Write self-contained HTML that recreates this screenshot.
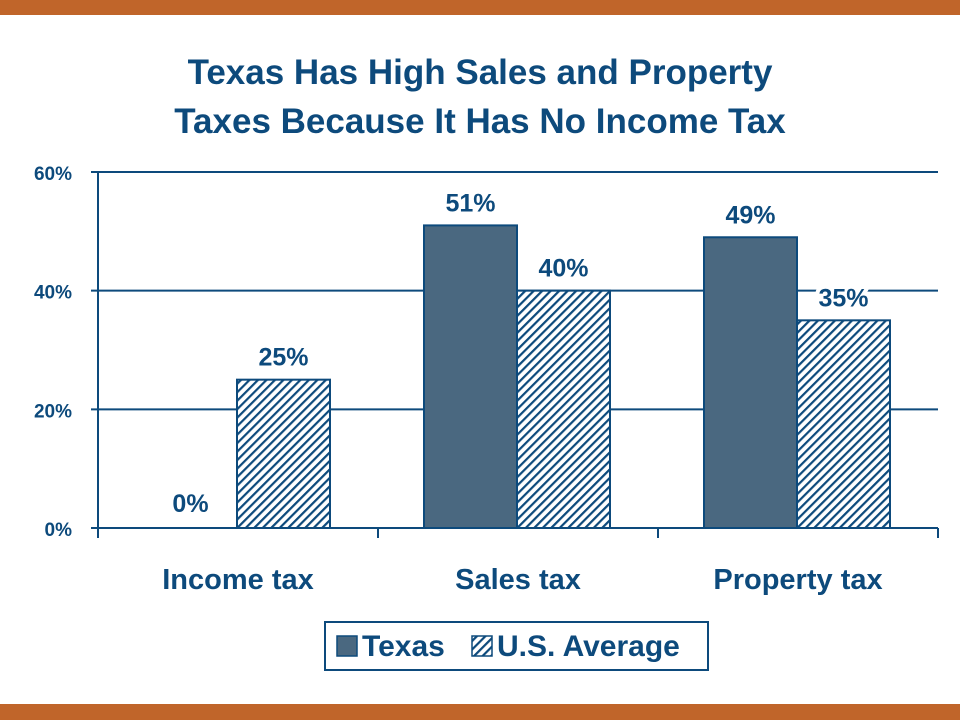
<!DOCTYPE html>
<html><head><meta charset="utf-8"><style>
body{margin:0;background:#fff;}
svg{display:block;font-family:"Liberation Sans",Arial,sans-serif;}
</style></head><body>
<svg width="960" height="720" viewBox="0 0 960 720">
<defs>
<pattern id="hatch" patternUnits="userSpaceOnUse" width="6" height="6" patternTransform="rotate(45)">
<rect width="6" height="6" fill="#fff"/><rect x="0" y="0" width="2.2" height="6" fill="#0d4a7c"/>
</pattern>
</defs>
<rect x="0" y="0" width="960" height="15" fill="#c0652a"/>
<rect x="0" y="704" width="960" height="16" fill="#c0652a"/>
<g fill="#0d4a7c" font-weight="bold" font-size="35" text-anchor="middle">
<text x="480" y="84">Texas Has High Sales and Property</text>
<text x="480" y="133">Taxes Because It Has No Income Tax</text>
</g>
<g id="grid"></g>
<g id="bars"></g>
<g id="labels"></g>
<g>
<rect x="325" y="622" width="383" height="48" fill="#fff" stroke="#0d4a7c" stroke-width="2"/>
<rect x="337" y="636" width="20" height="20" fill="#4a6880" stroke="#0d4a7c" stroke-width="1.5"/>
<text x="362" y="656" font-size="30" font-weight="bold" fill="#0d4a7c">Texas</text>
<rect x="472" y="636" width="20" height="20" fill="url(#hatch)" stroke="#0d4a7c" stroke-width="1.5"/>
<text x="497" y="656" font-size="30" font-weight="bold" fill="#0d4a7c">U.S. Average</text>
</g>
</svg>
<script>
const categories=["Income tax","Sales tax","Property tax"];
const texas=[0,51,49];
const usAvg=[25,40,35];
const tickValues=[0,20,40,60];
const tickLabels=["0%","20%","40%","60%"];
const NS="http://www.w3.org/2000/svg";
const x0=98,x1=938,yTop=172,yBot=528,yMax=60;
const y=v=>yBot-(v/yMax)*(yBot-yTop);
const catW=(x1-x0)/categories.length;
const barW=93;
function mk(tag,attrs,parent,txt){const e=document.createElementNS(NS,tag);for(const k in attrs)e.setAttribute(k,attrs[k]);if(txt!==undefined)e.textContent=txt;parent.appendChild(e);return e;}
const grid=document.getElementById('grid'),bars=document.getElementById('bars'),labels=document.getElementById('labels');
tickValues.forEach((t,i)=>{
 const l=mk('line',{x1:91,x2:x1,y1:y(t),y2:y(t),stroke:'#0d4a7c','stroke-width':2},grid);
 
 
 const tx=mk('text',{x:72,y:y(t)+8,'text-anchor':'end','font-size':19,'font-weight':'bold',fill:'#0d4a7c'},grid,tickLabels[i]);
 
 
});
const ax=mk('line',{x1:x0,x2:x0,y1:yTop,y2:538,stroke:'#0d4a7c','stroke-width':2},grid);


for(let i=0;i<=categories.length;i++){
 const t=mk('line',{x1:x0+i*catW,x2:x0+i*catW,y1:yBot,y2:538,stroke:'#0d4a7c','stroke-width':2},grid);
 
 
}
categories.forEach((c,i)=>{
 const cx=x0+i*catW;
 const bx=cx+46;
 const cl=mk('text',{x:cx+catW/2,y:589,'text-anchor':'middle','font-size':29,fill:'#0d4a7c','font-weight':'bold'},labels,c);
 
 
 if(texas[i]>0){
  const r=mk('rect',{x:bx,y:y(texas[i]),width:barW,height:yBot-y(texas[i]),fill:'#4a6880',stroke:'#0d4a7c','stroke-width':2},bars);
  
  
 }
 const r2=mk('rect',{x:bx+barW,y:y(usAvg[i]),width:barW,height:yBot-y(usAvg[i]),fill:'url(#hatch)',stroke:'#0d4a7c','stroke-width':2},bars);
 
 
 const ty=texas[i]>0?y(texas[i])-14:y(texas[i])-16;
 const v1=mk('text',{x:bx+barW/2,y:ty,'text-anchor':'middle','font-size':25,'font-weight':'bold',fill:'#0d4a7c'},labels,texas[i]+'%');
 
 
 const v2=mk('text',{x:bx+barW*1.5,y:y(usAvg[i])-14,'text-anchor':'middle','font-size':25,'font-weight':'bold',fill:'#0d4a7c',stroke:'#fff','stroke-width':8,'paint-order':'stroke'},labels,usAvg[i]+'%');
 
 
});
</script>
</body></html>
